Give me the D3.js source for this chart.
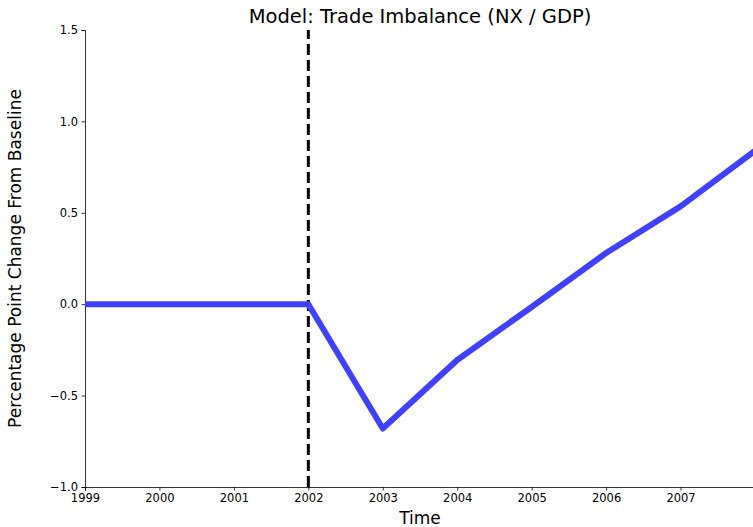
<!DOCTYPE html>
<html>
<head>
<meta charset="utf-8">
<script src="https://cdn.jsdelivr.net/npm/d3@7"></script>
<style>
  body { margin: 0; background: #fff; }
  svg { display: block; font-family: "DejaVu Sans", sans-serif; }
</style>
</head>
<body>
<div id="chart"></div>
<script>
// years on the x axis and model response (pp change from baseline)
const years = [1999, 2000, 2001, 2002, 2003, 2004, 2005, 2006, 2007, 2008];
const nxGdp = [0, 0, 0, 0, -0.68, -0.305, -0.015, 0.28, 0.535, 0.84];
const xTicks = [1999, 2000, 2001, 2002, 2003, 2004, 2005, 2006, 2007];
const yTicks = [-1.0, -0.5, 0.0, 0.5, 1.0, 1.5];
const shockYear = 2002;

const width = 753;
const height = 527;
const margin = { top: 30, right: -2, bottom: 40, left: 85 };

const svg = d3.select("#chart")
    .append("svg")
    .attr("width", width)
    .attr("height", height);

const x = d3.scaleLinear()
    .domain([1999, 2008])
    .range([margin.left, width - margin.right]);

const y = d3.scaleLinear()
    .domain([-1.0, 1.5])
    .range([height - margin.bottom, margin.top]);

// x axis
const xAxis = svg.append("g")
    .attr("transform", `translate(0,${height - margin.bottom})`)
    .call(d3.axisBottom(x).tickValues(xTicks).tickFormat(d3.format("d")).tickSizeOuter(0).tickSize(3.5).tickPadding(3));

// y axis
const yAxis = svg.append("g")
    .attr("transform", `translate(${margin.left},0)`)
    .call(d3.axisLeft(y).tickValues(yTicks)
        .tickFormat(d => d3.format(".1f")(d).replace("-", "\u2212"))
        .tickSizeOuter(0).tickSize(3.5).tickPadding(3.5));

[xAxis, yAxis].forEach(function(g) {
    g.selectAll("text").attr("font-size", 11.5).attr("fill", "#000").attr("font-family", "DejaVu Sans, sans-serif");
    g.selectAll("line").attr("stroke", "#000").attr("stroke-width", 0.8);
    g.select(".domain").attr("stroke", "#000").attr("stroke-width", 0.8);
});

// vertical dashed line at the shock
svg.append("line")
    .attr("x1", x(shockYear))
    .attr("x2", x(shockYear))
    .attr("y1", y(-1.0))
    .attr("y2", y(1.5))
    .attr("stroke", "#000")
    .attr("stroke-width", 3)
    .attr("stroke-dasharray", "11,5");

// model line
const line = d3.line()
    .x(function(d, i) { return x(years[i]); })
    .y(function(d) { return y(d); });

svg.append("path")
    .datum(nxGdp)
    .attr("d", line)
    .attr("fill", "none")
    .attr("stroke", "#4040ff")
    .attr("stroke-width", 6)
    .attr("stroke-linejoin", "round");

// title and labels
svg.append("text")
    .attr("x", (margin.left + 755) / 2)
    .attr("y", 23)
    .attr("text-anchor", "middle")
    .attr("font-size", 19.5)
    .text("Model: Trade Imbalance (NX / GDP)");

svg.append("text")
    .attr("x", (margin.left + 755) / 2)
    .attr("y", 524)
    .attr("text-anchor", "middle")
    .attr("font-size", 17)
    .text("Time");

svg.append("text")
    .attr("transform", `translate(21,${(y(-1) + y(1.5)) / 2}) rotate(-90)`)
    .attr("text-anchor", "middle")
    .attr("font-size", 17)
    .text("Percentage Point Change From Baseline");
</script>
</body>
</html>
